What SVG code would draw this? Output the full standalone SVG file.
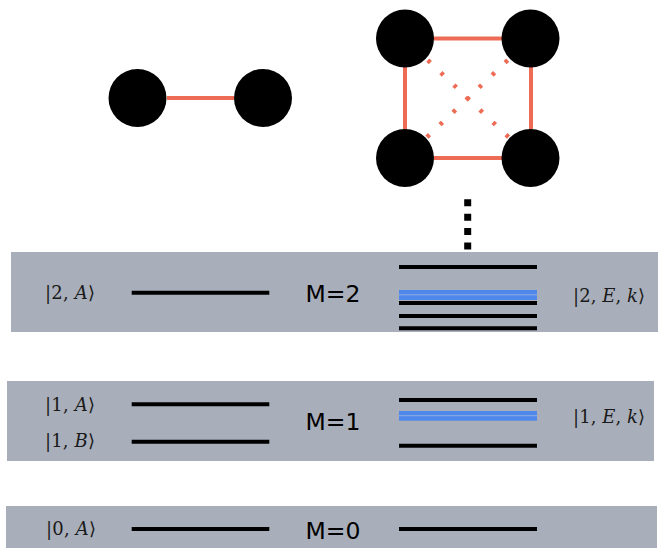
<svg xmlns="http://www.w3.org/2000/svg" width="665" height="548" viewBox="0 0 665 548">
<style>
.band{fill:#a9afba}
.lvl{stroke:#000;stroke-width:4}
.blue{fill:#4f88ea}
.bstripe{stroke:#8fabe0;stroke-width:1}
.bond{stroke:#ee6c55;stroke-width:4}
.dbond{stroke:#ee6c55;stroke-width:4.5;stroke-dasharray:3.5 14.5;stroke-dashoffset:4.5}
.atom{fill:#000}
.m{font-family:"DejaVu Sans",Verdana,sans-serif;font-size:23.5px;fill:#000}
.ket{font-family:"DejaVu Serif",serif;font-size:18px;fill:#1a1a1a}
.it{font-style:italic}
</style>
<g id="connectors">
<line class="bond" x1="167" y1="98" x2="234" y2="98"/>
<line class="bond" x1="434" y1="38.5" x2="502" y2="38.5"/>
<line class="bond" x1="434" y1="158" x2="502" y2="158"/>
<line class="bond" x1="405" y1="67" x2="405" y2="129"/>
<line class="bond" x1="531" y1="67" x2="531" y2="129"/>
<line class="dbond" x1="405" y1="38.5" x2="530.5" y2="158"/>
<line class="dbond" x1="530.5" y1="38.5" x2="405" y2="158"/>
<line x1="467.7" y1="199.3" x2="467.7" y2="250" stroke="#000" stroke-width="7" stroke-dasharray="7 7.4"/>
</g>
<g id="dimer">
<circle class="atom" cx="137.5" cy="98" r="29"/>
<circle class="atom" cx="263" cy="98" r="29"/>
</g>
<g id="tetramer">
<circle class="atom" cx="405" cy="38.5" r="29"/>
<circle class="atom" cx="530.5" cy="38.5" r="29"/>
<circle class="atom" cx="405" cy="158" r="29"/>
<circle class="atom" cx="530.5" cy="158" r="29"/>
</g>
<g id="band-m2">
<rect class="band" x="11" y="252" width="647" height="80"/>
<line class="lvl" x1="131.7" y1="292.7" x2="269.3" y2="292.7"/>
<line class="lvl" x1="399" y1="267" x2="537" y2="267"/>
<line class="lvl" x1="399" y1="303" x2="537" y2="303"/>
<rect class="blue" x="399" y="290" width="138" height="10"/>
<line class="bstripe" x1="399" y1="294.8" x2="537" y2="294.8"/>
<line class="lvl" x1="399" y1="316" x2="537" y2="316"/>
<line class="lvl" x1="399" y1="328.3" x2="537" y2="328.3"/>
<text class="m" x="305.5" y="302.3">M=2</text>
<text class="ket" x="45" y="298.5" textLength="50" lengthAdjust="spacing">|2, <tspan class="it">A</tspan>⟩</text>
<text class="ket" x="573" y="302" textLength="72" lengthAdjust="spacing">|2, <tspan class="it">E</tspan>, <tspan class="it">k</tspan>⟩</text>
</g>
<g id="band-m1">
<rect class="band" x="7" y="381" width="647" height="80"/>
<line class="lvl" x1="131.7" y1="404.3" x2="269.3" y2="404.3"/>
<line class="lvl" x1="131.7" y1="441.7" x2="269.3" y2="441.7"/>
<line class="lvl" x1="399" y1="400" x2="537" y2="400"/>
<rect class="blue" x="399" y="411" width="138" height="9.7"/>
<line class="bstripe" x1="399" y1="415.7" x2="537" y2="415.7"/>
<line class="lvl" x1="399" y1="445.7" x2="537" y2="445.7"/>
<text class="m" x="305.5" y="430">M=1</text>
<text class="ket" x="45" y="411" textLength="50" lengthAdjust="spacing">|1, <tspan class="it">A</tspan>⟩</text>
<text class="ket" x="45" y="447" textLength="50" lengthAdjust="spacing">|1, <tspan class="it">B</tspan>⟩</text>
<text class="ket" x="573" y="423" textLength="72" lengthAdjust="spacing">|1, <tspan class="it">E</tspan>, <tspan class="it">k</tspan>⟩</text>
</g>
<g id="band-m0">
<rect class="band" x="6" y="506" width="651" height="42"/>
<line class="lvl" x1="131.7" y1="529" x2="269.3" y2="529"/>
<line class="lvl" x1="399" y1="529" x2="537" y2="529"/>
<text class="m" x="305.5" y="539">M=0</text>
<text class="ket" x="46" y="535" textLength="50" lengthAdjust="spacing">|0, <tspan class="it">A</tspan>⟩</text>
</g>
</svg>
